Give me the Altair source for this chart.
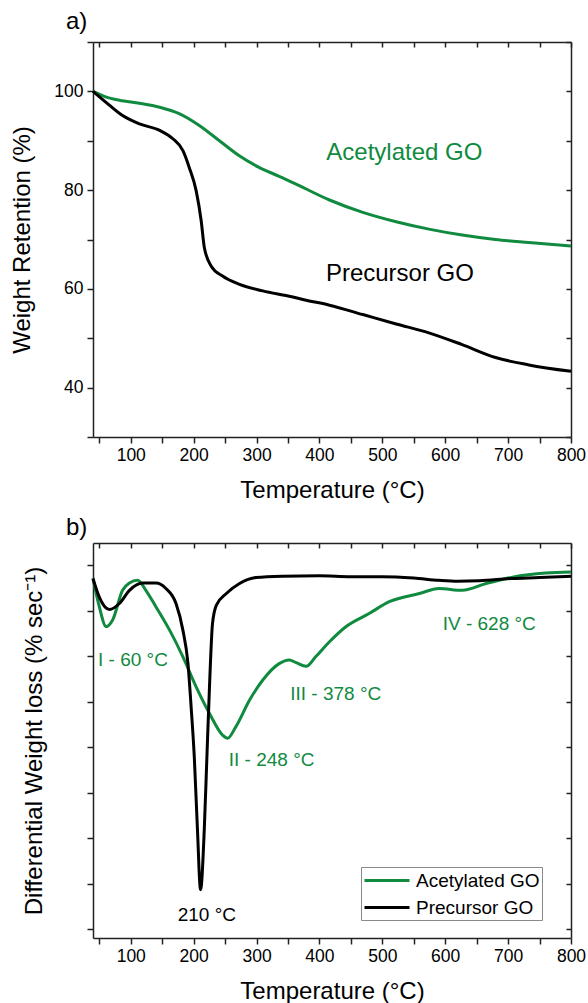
import altair as alt
import pandas as pd

FONT = "Liberation Sans"
GREEN = "#108a3f"
BLACK = "#000000"

# ---------- data ----------
# a) TGA weight retention (%)
tga_ace_T = [40, 60, 82, 114, 146, 177, 209, 241, 272, 304, 336, 368, 416, 469, 522, 574, 627, 680, 733, 800]
tga_ace_w = [100, 98.9, 98.2, 97.6, 96.8, 95.5, 93.1, 90.0, 87.0, 84.6, 82.8, 80.9, 78.0, 75.5, 73.6, 72.1, 70.9, 70.0, 69.4, 68.7]
tga_pre_T = [40, 66, 87, 114, 146, 167, 183, 193, 204, 212, 217, 228, 246, 273, 310, 352, 379, 416, 469, 522, 574, 627, 680, 733, 800]
tga_pre_w = [100, 97.2, 95.1, 93.4, 92.1, 90.4, 88.0, 84.6, 79.9, 73.8, 68.4, 64.6, 62.6, 60.9, 59.6, 58.5, 57.7, 56.7, 54.8, 52.9, 51.1, 48.7, 46.1, 44.6, 43.3]

# b) DTG (arbitrary units, one unit per tick)
dtg_ace_T = [40, 50, 61, 71, 87, 98, 111, 124, 140, 162, 183, 204, 225, 246, 254, 267, 289, 310, 336, 352, 363, 379, 394, 416, 442, 479, 511, 559, 590, 627, 665, 707, 760, 800]
dtg_ace_d = [-0.29, -0.91, -1.35, -1.21, -0.55, -0.39, -0.33, -0.55, -0.91, -1.43, -2.01, -2.67, -3.25, -3.73, -3.80, -3.55, -2.96, -2.52, -2.16, -2.08, -2.14, -2.22, -2.01, -1.68, -1.35, -1.06, -0.80, -0.62, -0.51, -0.55, -0.40, -0.26, -0.17, -0.15]
dtg_pre_T = [40, 50, 66, 82, 98, 119, 140, 156, 172, 183, 191, 196, 201, 206, 211, 217, 221, 225, 230, 236, 252, 273, 299, 341, 400, 450, 500, 550, 590, 620, 654, 706, 750, 800]
dtg_pre_d = [-0.29, -0.70, -0.97, -0.84, -0.55, -0.39, -0.39, -0.51, -0.84, -1.43, -2.16, -3.11, -4.20, -5.78, -7.13, -5.78, -4.25, -2.74, -1.28, -0.88, -0.62, -0.40, -0.27, -0.24, -0.23, -0.25, -0.25, -0.28, -0.33, -0.35, -0.34, -0.29, -0.27, -0.24]

series = ["Acetylated GO", "Precursor GO"]
series_colors = [GREEN, BLACK]

top_labels = ["Acetylated GO", "Precursor GO"]
top_label_T = [535, 528]
top_label_w = [87.6, 63.0]

peak_labels = ["I - 60 °C", "II - 248 °C", "III - 378 °C", "IV - 628 °C"]
peak_T = [103.5, 324, 426, 670]
peak_d = [-2.08, -4.27, -2.82, -1.28]
pre_peak_label = ["210 °C"]
pre_peak_T = [221]
pre_peak_d = [-7.68]

x_ticks = [50, 100, 150, 200, 250, 300, 350, 400, 450, 500, 550, 600, 650, 700, 750, 800]
y_ticks_top = [30, 40, 50, 60, 70, 80, 90, 100, 110]
y_ticks_bot = [0, -1, -2, -3, -4, -5, -6, -7, -8]

# ---------- layout ----------
W, H1, H2 = 478, 395, 395
xscale = alt.Scale(domain=[40, 800], nice=False, zero=False)
yscale_top = alt.Scale(domain=[30, 110], nice=False, zero=False)
yscale_bot = alt.Scale(domain=[-8.19, 0.49], nice=False, zero=False)

x_label_expr = "datum.value % 100 == 0 ? datum.label : ''"


def x_main():
    return alt.Axis(values=x_ticks, labelExpr=x_label_expr, title="Temperature (°C)",
                    orient="bottom", tickSize=6, labelOverlap=False, labelFlush=False,
                    labelPadding=3, titlePadding=15)


def x_inner(h):
    return alt.Axis(values=x_ticks, labels=False, title=None, orient="bottom",
                    offset=-h, tickSize=5)


tga_df = pd.DataFrame({
    "T": tga_ace_T + tga_pre_T,
    "w": tga_ace_w + tga_pre_w,
    "series": [series[0]] * len(tga_ace_T) + [series[1]] * len(tga_pre_T),
})
dtg_df = pd.DataFrame({
    "T": dtg_ace_T + dtg_pre_T,
    "d": dtg_ace_d + dtg_pre_d,
    "series": [series[0]] * len(dtg_ace_T) + [series[1]] * len(dtg_pre_T),
})

# ---------- panel a ----------
lines_top = alt.Chart(tga_df).mark_line(strokeWidth=3, interpolate="monotone").encode(
    x=alt.X("T:Q", scale=xscale, axis=x_main()),
    y=alt.Y("w:Q", scale=yscale_top,
            axis=alt.Axis(values=y_ticks_top, labelExpr="datum.value % 20 == 0 ? datum.label : ''",
                          title="Weight Retention (%)", tickSize=6, labelOverlap=False,
                          labelFlush=False, labelPadding=4, titlePadding=19)),
    color=alt.Color("series:N", scale=alt.Scale(domain=series, range=series_colors), legend=None),
)

ann_top_df = pd.DataFrame({"T": top_label_T, "w": top_label_w, "text": top_labels})
text_top_g = alt.Chart(ann_top_df).transform_filter(alt.datum.text == top_labels[0]).mark_text(
    font=FONT, fontSize=24, color=GREEN, align="center", baseline="middle").encode(
    x=alt.X("T:Q", scale=xscale, axis=x_inner(H1)),
    y=alt.Y("w:Q", scale=yscale_top,
            axis=alt.Axis(values=y_ticks_top, labels=False, title=None, orient="left",
                          offset=-W, tickSize=5)),
    text="text:N",
)
text_top_k = alt.Chart(ann_top_df).transform_filter(alt.datum.text == top_labels[1]).mark_text(
    font=FONT, fontSize=24, color=BLACK, align="center", baseline="middle").encode(
    x=alt.X("T:Q", scale=xscale, axis=None),
    y=alt.Y("w:Q", scale=yscale_top, axis=None),
    text="text:N",
)

panel_a = alt.layer(lines_top, text_top_g, text_top_k).resolve_axis(
    x="independent", y="independent"
).properties(
    width=W, height=H1,
    title=alt.TitleParams("a)", anchor="start", frame="group", dx=-27, offset=-1,
                          fontSize=24, fontWeight="normal", font=FONT, color="black"),
)

# ---------- panel b ----------
lines_bot = alt.Chart(dtg_df).mark_line(strokeWidth=3, interpolate="monotone").encode(
    x=alt.X("T:Q", scale=xscale, axis=x_main()),
    y=alt.Y("d:Q", scale=yscale_bot,
            axis=alt.Axis(values=y_ticks_bot, labels=False, title="Differential Weight loss (% sec⁻¹)",
                          tickSize=6, titlePadding=40)),
    color=alt.Color("series:N", scale=alt.Scale(domain=series, range=series_colors),
                    legend=alt.Legend(title=None, orient="none", legendX=268, legendY=324,
                                      symbolType="M-1,0H3.5", symbolSize=400, symbolStrokeWidth=3,
                                      labelFont=FONT, labelFontSize=19, labelColor="black",
                                      labelOffset=30, strokeColor="#8a8a8a", fillColor="white",
                                      padding=2, rowPadding=5)),
)

peak_df = pd.DataFrame({"T": peak_T, "d": peak_d, "text": peak_labels})
pre_df = pd.DataFrame({"T": pre_peak_T, "d": pre_peak_d, "text": pre_peak_label})

text_bot_g = alt.Chart(peak_df).mark_text(
    font=FONT, fontSize=19, color=GREEN, align="center", baseline="middle").encode(
    x=alt.X("T:Q", scale=xscale, axis=x_inner(H2)),
    y=alt.Y("d:Q", scale=yscale_bot,
            axis=alt.Axis(values=y_ticks_bot, labels=False, title=None, orient="left",
                          offset=-W, tickSize=5)),
    text="text:N",
)
text_bot_k = alt.Chart(pre_df).mark_text(
    font=FONT, fontSize=19, color=BLACK, align="center", baseline="middle").encode(
    x=alt.X("T:Q", scale=xscale, axis=None),
    y=alt.Y("d:Q", scale=yscale_bot, axis=None),
    text="text:N",
)

panel_b = alt.layer(lines_bot, text_bot_g, text_bot_k).resolve_axis(
    x="independent", y="independent"
).properties(
    width=W, height=H2,
    title=alt.TitleParams("b)", anchor="start", frame="group", dx=-27, offset=2,
                          fontSize=24, fontWeight="normal", font=FONT, color="black"),
)

chart = alt.vconcat(panel_a, panel_b, spacing=13).resolve_scale(color="independent").properties(
    padding={"left": 10, "top": 10, "right": 0, "bottom": 0},
).configure_view(stroke=None).configure_axis(
    labelFont=FONT, titleFont=FONT, labelFontSize=17.5, titleFontSize=24,
    titleFontWeight="normal", labelColor="black", titleColor="black",
    domainColor="#222222", tickColor="#222222", domainWidth=1.5, tickWidth=1.5, grid=False,
)

chart.save("out.html", embed_options={"renderer": "svg", "actions": False})
